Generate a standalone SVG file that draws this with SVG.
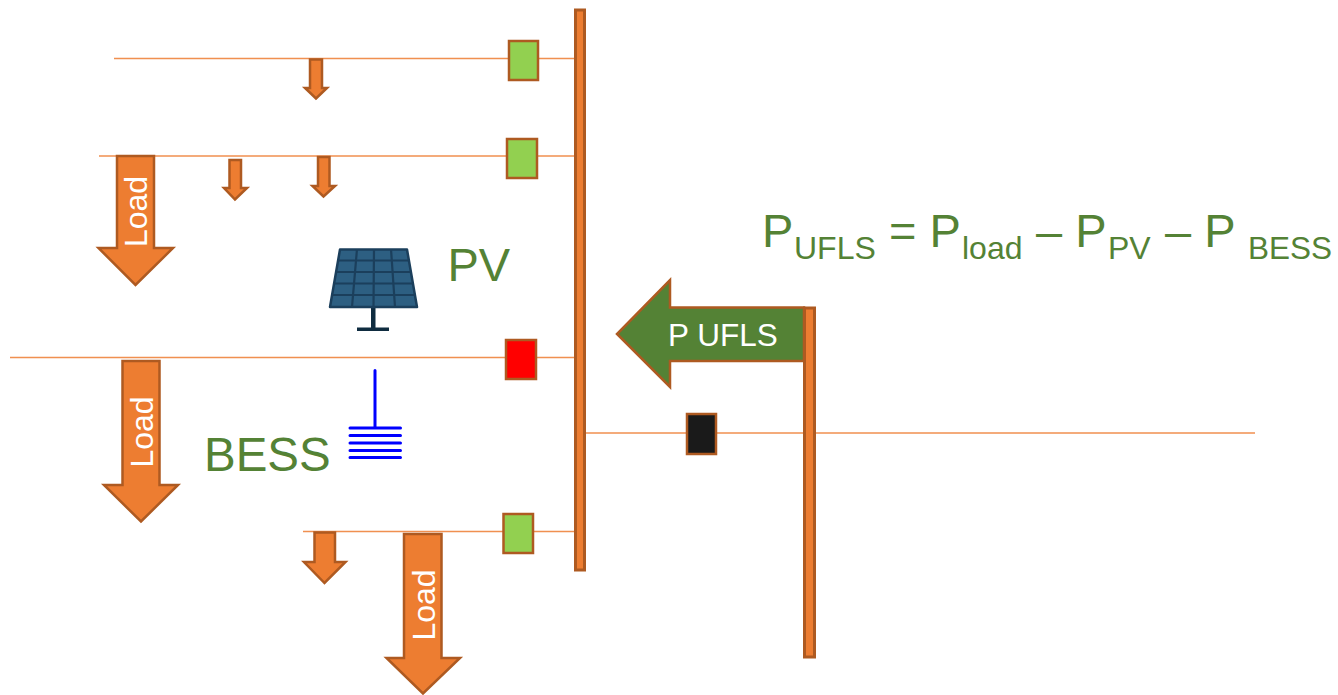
<svg xmlns="http://www.w3.org/2000/svg" width="1338" height="695" viewBox="0 0 1338 695">
<style>
text{font-family:"Liberation Sans",Arial,sans-serif}
.line{stroke:#ED7D31;stroke-width:1.5;fill:none;opacity:.85}
.shp{fill:#ED7D31;stroke:#AE5A21;stroke-width:2.5}
.bus{fill:#ED7D31;stroke:#AE5A21;stroke-width:3}
.box{stroke:#AE5A21;stroke-width:2.5}
.g{fill:#92D050}
.t{fill:#548235}
.w{fill:#fff}
.batt{stroke:#0000FF;stroke-width:3;stroke-linecap:round;fill:none}
.grid{stroke:#1B3F5C;stroke-width:2.2;fill:none}
</style>
<rect width="1338" height="695" fill="#fff"/>
<g id="connectors">
<path class="line" d="M114 58.500H576M99 156H576M10 357.500H576M303 531.500H576M585 433H1255"/>
</g>
<g id="bus-main"><rect class="bus" x="575.500" y="10" width="9" height="560"/></g>
<g id="bus-right"><rect class="bus" x="804.500" y="308" width="10" height="349"/></g>
<g id="breaker-1"><rect class="box g" x="509" y="41" width="29" height="39"/></g>
<g id="breaker-2"><rect class="box g" x="507" y="139" width="30" height="39"/></g>
<g id="breaker-red"><rect class="box" fill="#FF0000" x="506" y="340" width="30" height="39"/></g>
<g id="breaker-black"><rect class="box" fill="#1A1A1A" x="687" y="414" width="29" height="40"/></g>
<g id="breaker-4"><rect class="box g" x="503.500" y="514" width="29.500" height="39"/></g>
<g id="load-small-1"><path class="shp" d="M310 59.500H322V88H327L316 98.500L305 88H310Z"/></g>
<g id="load-small-2"><path class="shp" d="M229.500 160H241V188H247L235 199.500L224 188H229.500Z"/></g>
<g id="load-small-3"><path class="shp" d="M318 157H329.500V186H335L323.500 196.500L312.500 186H318Z"/></g>
<g id="load-small-4"><path class="shp" d="M314.500 532.500H335V562H345.500L324.500 583L304 562H314.500Z"/></g>
<g id="load-1">
<path class="shp" d="M117 156H154V248H173L135.500 285L98.500 248H117Z"/>
<text class="w" font-size="32" text-anchor="middle" transform="translate(147 211.500) rotate(-90)">Load</text>
</g>
<g id="load-2">
<path class="shp" d="M122.500 361H159.500V485H178L141 521.500L104 485H122.500Z"/>
<text class="w" font-size="32" text-anchor="middle" transform="translate(153 432) rotate(-90)">Load</text>
</g>
<g id="load-3">
<path class="shp" d="M404 534H441.500V658H460L423 693.500L386.500 658H404Z"/>
<text class="w" font-size="32" text-anchor="middle" transform="translate(435 605) rotate(-90)">Load</text>
</g>
<g id="pv">
<path fill="#0F2C40" d="M371 307H375.500V327.500H389V331H357V327.500H371Z"/>
<path fill="#2D5F82" stroke="#1B3F5C" stroke-width="2.500" stroke-linejoin="round" d="M340 249.500H407L417 307H330Z"/>
<path class="grid" d="M357 249L352 307M374 249L373.500 307M391 249L395 307M338 260.500H409M336 272H411M334 283.500H413M332 295H415"/>
<text class="t" font-size="47" x="447.500" y="281">PV</text>
</g>
<g id="bess">
<path class="batt" d="M375 370.500V428M350 428H400.500M350 435.500H400.500M350 443H400.500M350 450.500H400.500M350 457.500H400.500"/>
<text class="t" font-size="47.500" x="204" y="471">BESS</text>
</g>
<g id="p-ufls">
<path fill="#548235" stroke="#AE5A21" stroke-width="2.500" d="M804 307.500H670V280L617 334L670 387V361H804Z"/>
<text class="w" font-size="31.500" x="668" y="346">P UFLS</text>
</g>
<g id="formula" class="t">
<text class="t" font-size="47" x="762" y="247">P</text>
<text class="t" font-size="32" x="794" y="259">UFLS</text>
<text class="t" font-size="47" x="889" y="247">= P</text>
<text class="t" font-size="32" x="962" y="259">load</text>
<text class="t" font-size="47" x="1036" y="247">– P</text>
<text class="t" font-size="32" x="1108" y="259">PV</text>
<text class="t" font-size="47" x="1165" y="247">– P</text>
<text class="t" font-size="31.500" x="1248" y="259">BESS</text>
</g>
</svg>
